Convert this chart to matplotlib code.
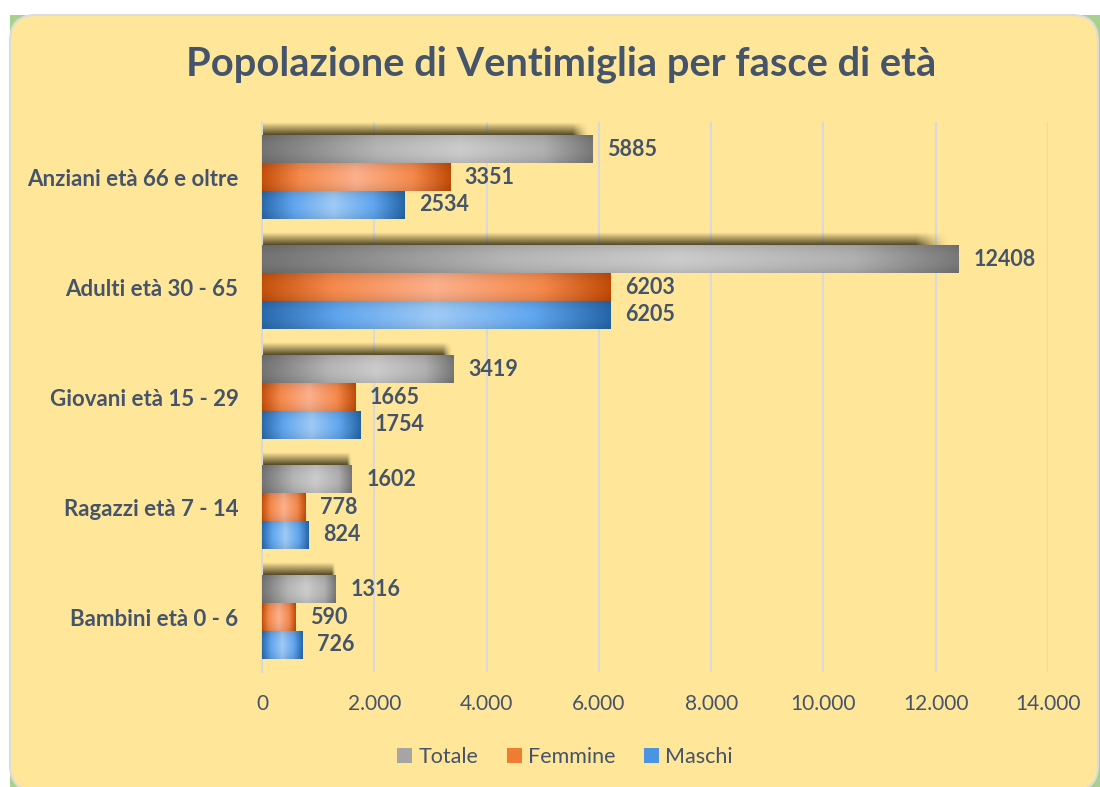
import numpy as np
import matplotlib
matplotlib.use('Agg')
import matplotlib.pyplot as plt
from matplotlib.colors import LinearSegmentedColormap
from matplotlib.patches import FancyBboxPatch, Rectangle, Patch

plt.rcParams['font.family'] = ['Lato', 'DejaVu Sans']

# ---------------- data ----------------
title = "Popolazione di Ventimiglia per fasce di età"
categories = ["Anziani età 66 e oltre", "Adulti età 30 - 65", "Giovani età 15 - 29",
              "Ragazzi età 7 - 14", "Bambini età 0 - 6"]
totale = [5885, 12408, 3419, 1602, 1316]
femmine = [3351, 6203, 1665, 778, 590]
maschi = [2534, 6205, 1754, 824, 726]
series_names = ["Totale", "Femmine", "Maschi"]
xticks = [0, 2000, 4000, 6000, 8000, 10000, 12000, 14000]
xtick_labels = ["0", "2.000", "4.000", "6.000", "8.000", "10.000", "12.000", "14.000"]

TEXT = '#44546A'
W, H = 1100, 787
fig = plt.figure(figsize=(W / 100, H / 100), dpi=100)
fig.patch.set_facecolor('white')

# ---------------- background panel ----------------
bg = fig.add_axes([0, 0, 1, 1], zorder=-10)
bg.set_xlim(0, W)
bg.set_ylim(H, 0)
bg.axis('off')
bg.add_patch(Rectangle((10, 15), W - 10, H - 15, facecolor='#A9D18E', edgecolor='none'))
bg.add_patch(FancyBboxPatch((10, 15), 1088, 776, boxstyle="round,pad=0,rounding_size=26",
                            facecolor='#FFE699', edgecolor='#DCDCDC', linewidth=1.5))

# ---------------- main axes ----------------
ax = fig.add_axes([262 / W, 1 - 672 / H, (1048 - 262) / W, (672 - 122) / H])
ax.patch.set_alpha(0)

n = len(categories)
ypos = np.arange(n)[::-1].astype(float)
h = 0.253

stops = {
    "Totale": [(0.0, '#737373'), (0.35, '#b5b5b5'), (0.6, '#cbcbcb'), (0.85, '#b0b0b0'), (1.0, '#787878')],
    "Femmine": [(0.0, '#c5500c'), (0.2, '#f5894c'), (0.5, '#fcb08c'), (0.8, '#f5894c'), (1.0, '#c24b07')],
    "Maschi": [(0.0, '#2a69ad'), (0.22, '#60a6ef'), (0.5, '#9fcaf6'), (0.78, '#60a6ef'), (1.0, '#2566a8')],
}
solid = {"Totale": '#a5a5a5', "Femmine": '#ed7d31', "Maschi": '#4a94e3'}
cmaps = {k: LinearSegmentedColormap.from_list(k, v) for k, v in stops.items()}

series = [totale, femmine, maschi]
offsets = [h, 0.0, -h]
containers = []
for name, vals, off in zip(series_names, series, offsets):
    c = ax.barh(ypos + off, vals, height=h, color=solid[name], edgecolor='none', zorder=3)
    containers.append((name, c))


def gradient_image(cmap):
    xs = np.linspace(0, 1, 256)
    ys = np.linspace(0, 1, 32)
    rgb = cmap(xs)[:, :3]
    img = np.tile(rgb[None, :, :], (len(ys), 1, 1))
    v = 1 - 0.10 * (np.abs(ys - 0.5) * 2) ** 2
    img = np.clip(img * v[:, None, None], 0, 1)
    return img


for name, cont in containers:
    img = gradient_image(cmaps[name])
    for rect in cont:
        x0, y0 = rect.get_x(), rect.get_y()
        w, hh = rect.get_width(), rect.get_height()
        im = ax.imshow(img, extent=[x0, x0 + w, y0, y0 + hh], aspect='auto',
                       interpolation='bilinear', zorder=4)
        im.set_clip_path(rect)
        if name == "Totale":
            # soft shadow above the total bar
            sh_h = 0.11
            ny, nx = 24, 200
            a_y = np.linspace(0, 1, ny) ** 1.0  # last row (near bar) darkest
            xs = np.linspace(0, 1, nx)
            a_x = np.clip((1 - xs) / 0.05, 0, 1) ** 1.5
            alpha = 0.95 * a_y[:, None] * a_x[None, :]
            sh = np.zeros((ny, nx, 4))
            sh[..., 0], sh[..., 1], sh[..., 2] = 0.30, 0.26, 0.13
            sh[..., 3] = alpha
            ax.imshow(sh, extent=[x0, x0 + w * 0.99, y0 + hh, y0 + hh + sh_h], aspect='auto',
                      origin='upper', interpolation='bilinear', zorder=2)
        rect.set_alpha(0)

for (name, cont), vals in zip(containers, series):
    ax.bar_label(cont, labels=[str(v) for v in vals], padding=10.5, fontsize=15.5,
                 fontweight='bold', color=TEXT)

ax.set_xlim(0, 14000)
ax.set_ylim(-0.5, n - 0.5)
ax.set_xticks(xticks, xtick_labels)
ax.set_yticks(ypos, categories)
ax.tick_params(axis='x', length=0, pad=16, labelsize=15, labelcolor=TEXT)
ax.tick_params(axis='y', length=0, pad=17, labelsize=16, labelcolor=TEXT)
for lab in ax.get_yticklabels():
    lab.set_fontweight('bold')
ax.grid(axis='x', color='#D9D9D9', linewidth=1.5, zorder=0)
ax.set_axisbelow(True)
for s in ['top', 'right', 'bottom']:
    ax.spines[s].set_visible(False)
ax.spines['left'].set_color('#D9D9D9')
ax.spines['left'].set_linewidth(1.5)

fig.text(561 / W, 1 - 64 / H, title, ha='center', va='center', fontsize=28.7,
         fontweight='bold', color=TEXT)

handles = [Patch(facecolor=solid[nm], edgecolor='none', label=nm) for nm in series_names]
fig.legend(handles=handles, loc='center', bbox_to_anchor=(565 / W, 1 - 757 / H), ncol=3,
           frameon=False, fontsize=15.5, handlelength=0.7, handleheight=0.7,
           handletextpad=0.3, columnspacing=1.3, labelcolor=TEXT)

fig.savefig('out.png', dpi=100, facecolor=fig.get_facecolor())
